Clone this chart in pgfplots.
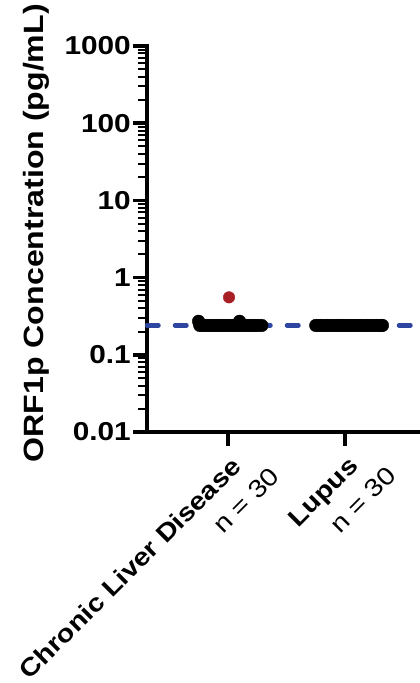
\documentclass[border=0pt]{standalone}
\usepackage{pgfplots}
\pgfplotsset{compat=1.18}
\usepackage{fontspec}
\setmainfont{Liberation Sans}[FakeStretch=1.15]
\definecolor{lodblue}{RGB}{46,70,160}
\definecolor{ptred}{RGB}{168,32,38}
\begin{document}
\begin{tikzpicture}
\begin{axis}[
  scale only axis,
  width=273bp, height=386bp,
  ymode=log,
  ymin=0.01, ymax=1000,
  xmin=-0.69, xmax=1.64,
  axis lines=left,
  axis line style={-, line width=4.5pt, line cap=rect},
  ytick={0.01,0.1,1,10,100,1000},
  yticklabels={0.01,0.1,1,10,100,1000},
  minor ytick={0.02,0.03,0.04,0.05,0.06,0.07,0.08,0.09,0.2,0.3,0.4,0.5,0.6,0.7,0.8,0.9,2,3,4,5,6,7,8,9,20,30,40,50,60,70,80,90,200,300,400,500,600,700,800,900},
  xtick={0,1},
  xticklabels={{Chronic Liver Disease\hspace*{20bp}\\\mdseries n = 30},{Lupus\hspace*{20bp}\\\mdseries n = 30}},
  tick align=outside,
  major tick length=14bp,
  minor tick length=9bp,
  every tick/.style={black, line width=3.6pt},
  minor tick style={line width=2pt},
  y tick label style={font=\fontsize{26}{28}\selectfont\bfseries, inner xsep=2pt},
  x tick label style={font=\fontsize{25}{34}\selectfont\bfseries, rotate=45, anchor=north east, align=right, inner sep=2pt, xshift=17bp, yshift=-6bp},
  ylabel={ORF1p Concentration (pg/mL)},
  ylabel style={font=\fontsize{28}{32}\selectfont\bfseries, at={(ticklabel cs:0.515)}},
  ylabel shift=10bp,
  clip=false,
]
\addplot[lodblue, line width=4.5pt, dash pattern=on 11.5bp off 16.5bp, line cap=round] coordinates {(-0.69,0.24) (1.64,0.24)};
\addplot[only marks, mark=*, mark size=6.3pt, mark options={fill=black, draw=black}] coordinates {
(-0.24,0.24)(-0.22,0.24)(-0.20,0.24)(-0.18,0.24)(-0.16,0.24)(-0.14,0.24)(-0.12,0.24)(-0.10,0.24)(-0.08,0.24)
(-0.06,0.24)(-0.04,0.24)(-0.02,0.24)(0.00,0.24)(0.02,0.24)(0.04,0.24)(0.06,0.24)(0.08,0.24)(0.10,0.24)
(0.12,0.24)(0.14,0.24)(0.16,0.24)(0.18,0.24)(0.20,0.24)(0.22,0.24)(0.24,0.24)(0.26,0.24)(0.29,0.24)
(-0.25,0.272)(0.10,0.272)
(0.75,0.24)(0.77,0.24)(0.79,0.24)(0.81,0.24)(0.83,0.24)(0.85,0.24)(0.87,0.24)(0.89,0.24)(0.91,0.24)(0.93,0.24)
(0.95,0.24)(0.97,0.24)(0.99,0.24)(1.01,0.24)(1.03,0.24)(1.05,0.24)(1.07,0.24)(1.09,0.24)(1.11,0.24)(1.13,0.24)
(1.15,0.24)(1.17,0.24)(1.19,0.24)(1.21,0.24)(1.23,0.24)(1.25,0.24)(1.27,0.24)(1.29,0.24)(1.31,0.24)(1.32,0.24)
};
\addplot[only marks, mark=*, mark size=5.8pt, mark options={fill=ptred, draw=ptred}] coordinates {(0.01,0.555)};
\end{axis}
\pgfresetboundingbox
\useasboundingbox ([xshift=-147bp,yshift=-251bp]current axis.south west) rectangle ([xshift=273bp,yshift=432bp]current axis.south west);
\end{tikzpicture}
\end{document}
